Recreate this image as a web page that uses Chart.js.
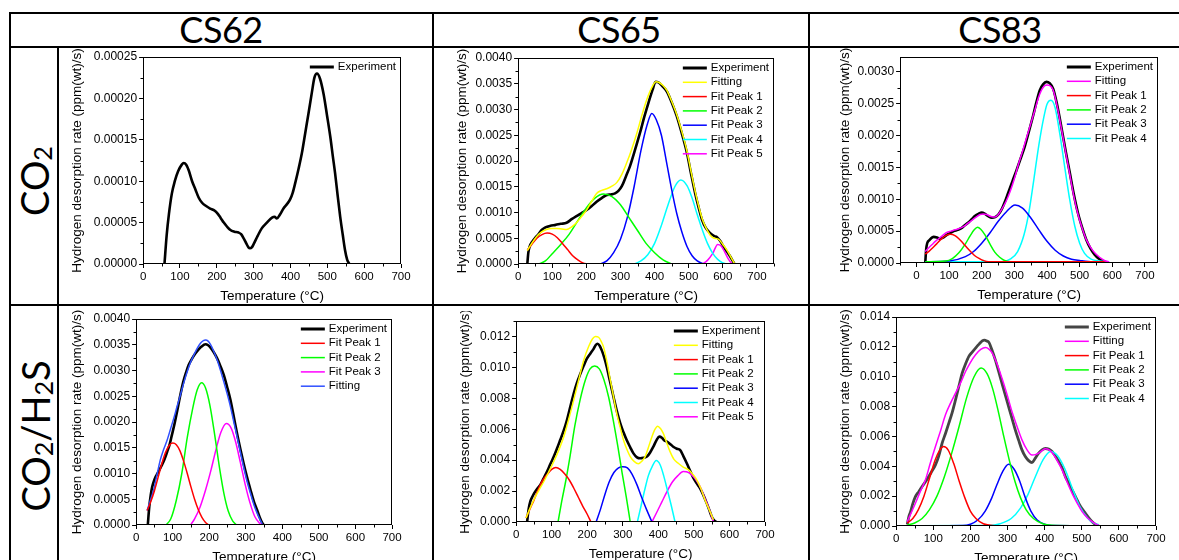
<!DOCTYPE html>
<html>
<head>
<meta charset="utf-8">
<script src="https://cdn.jsdelivr.net/npm/chart.js@4.4.1/dist/chart.umd.min.js"></script>
<style>
  body { margin:0; width:1179px; height:560px; overflow:hidden; background:#fff; position:relative; font-family:Lato, "Open Sans", sans-serif; }
  .ln { position:absolute; background:#000; }
  .hd { position:absolute; top:7px; font-size:36px; line-height:44px; transform:translateX(-50%); white-space:nowrap; letter-spacing:-0.5px; color:#000; }
  .rl { position:absolute; font-size:38px; line-height:44px; white-space:nowrap; transform:translate(-50%,-50%) rotate(-90deg); color:#000; }
  .rl sub { font-size:0.66em; vertical-align:-0.1em; line-height:0; }
  canvas { position:absolute; }
</style>
</head>
<body>
<div class="ln" style="left:9px;top:12px;width:1170px;height:2px"></div>
<div class="ln" style="left:9px;top:46px;width:1170px;height:2px"></div>
<div class="ln" style="left:9px;top:304px;width:1170px;height:2px"></div>
<div class="ln" style="left:9px;top:12px;width:2px;height:548px"></div>
<div class="ln" style="left:57px;top:46px;width:2px;height:514px"></div>
<div class="ln" style="left:432px;top:12px;width:2px;height:548px"></div>
<div class="ln" style="left:808px;top:12px;width:2px;height:548px"></div>

<div class="hd" style="left:221px">CS62</div>
<div class="hd" style="left:619px">CS65</div>
<div class="hd" style="left:1000px">CS83</div>
<div class="rl" style="left:34px;top:181px">CO<sub>2</sub></div>
<div class="rl" style="left:35px;top:436px">CO<sub>2</sub>/H<sub>2</sub>S</div>

<script>
// tick labels
const temperatureTicks = [0, 100, 200, 300, 400, 500, 600, 700];
const cs62Co2YTicks = [0, 0.00005, 0.0001, 0.00015, 0.0002, 0.00025];
const cs65Co2YTicks = [0, 0.0005, 0.001, 0.0015, 0.002, 0.0025, 0.003, 0.0035, 0.004];
const cs83Co2YTicks = [0, 0.0005, 0.001, 0.0015, 0.002, 0.0025, 0.003];
const cs62H2sYTicks = [0, 0.0005, 0.001, 0.0015, 0.002, 0.0025, 0.003, 0.0035, 0.004];
const cs65H2sYTicks = [0, 0.002, 0.004, 0.006, 0.008, 0.01, 0.012];
const cs83H2sYTicks = [0, 0.002, 0.004, 0.006, 0.008, 0.01, 0.012, 0.014];

// CS62 / CO2  [temperature, rate]
const cs62Co2Exp = [[58,0],[64,0.000035],[70,0.00006],[78,0.000085],[86,0.0001],[95,0.000112],[105,0.00012],[110,0.000122],[117,0.00012],[124,0.000113],[133,0.0001],[142,0.00009],[151,0.00008],[160,0.000074],[171,0.00007],[182,0.000067],[192,0.000065],[200,0.000062],[210,0.000056],[219,0.00005],[228,0.000045],[237,0.000041],[248,0.000039],[259,0.000038],[266,0.000036],[273,0.000031],[280,0.000025],[286,0.00002],[290,0.000019],[295,0.00002],[300,0.000024],[311,0.000034],[322,0.000043],[336,0.00005],[350,0.000056],[357,0.000057],[363,0.000055],[372,0.00006],[381,0.000067],[390,0.000072],[399,0.000078],[406,0.000086],[413,0.000098],[422,0.000115],[431,0.000134],[440,0.000158],[449,0.000182],[458,0.000207],[465,0.000225],[472,0.00023],[480,0.000224],[490,0.000205],[499,0.00018],[508,0.000154],[515,0.00013],[521,0.00011],[528,0.000083],[535,0.000057],[542,0.000035],[548,0.000017],[554,0.000005],[560,0]];

// CS65 / CO2
const cs65Co2Exp = [[27,0],[30,0.00022],[34,0.00034],[42,0.00044],[49,0.0005],[60,0.00058],[69,0.00066],[80,0.00071],[93,0.00074],[110,0.00076],[125,0.00078],[142,0.0008],[157,0.00087],[171,0.00093],[186,0.00099],[201,0.00105],[215,0.00112],[230,0.00121],[245,0.00128],[260,0.00134],[272,0.00135],[284,0.00137],[294,0.00142],[304,0.00151],[316,0.0017],[328,0.0019],[342,0.0022],[357,0.00254],[370,0.00286],[382,0.00313],[394,0.00338],[403,0.00354],[410,0.00353],[422,0.00346],[436,0.00335],[450,0.00314],[465,0.00287],[480,0.00253],[495,0.00215],[507,0.00175],[519,0.00137],[529,0.0011],[539,0.00086],[550,0.0007],[563,0.0006],[575,0.00054],[583,0.00052],[592,0.00045],[602,0.00034],[612,0.00024],[622,0.00014],[628,0.00007],[634,0]];
const cs65Co2Fit = [[27,0.00026],[40,0.0004],[54,0.00053],[68,0.00062],[83,0.00067],[98,0.00069],[113,0.00069],[128,0.00068],[142,0.00067],[157,0.00072],[171,0.0008],[186,0.00092],[201,0.00105],[215,0.00121],[230,0.00137],[245,0.00143],[260,0.00146],[275,0.00151],[289,0.00158],[304,0.00174],[318,0.00196],[333,0.00223],[348,0.00254],[362,0.00287],[377,0.00319],[392,0.00343],[404,0.00354],[412,0.00353],[424,0.00347],[436,0.00337],[450,0.00316],[465,0.0029],[480,0.00257],[495,0.00219],[507,0.00179],[519,0.00141],[529,0.00113],[539,0.00089],[550,0.00071],[563,0.00056],[575,0.0005],[588,0.00048],[600,0.00038],[612,0.00027],[624,0.00013],[634,0.00001]];
const cs65Co2Peak1 = [[27,0.00027],[40,0.00038],[55,0.0005],[70,0.00057],[85,0.0006],[100,0.00058],[115,0.00051],[130,0.0004],[145,0.00028],[160,0.00016],[175,0.00008],[190,0.00002],[205,0]];
const cs65Co2Peak2 = [[60,0],[80,0.00006],[100,0.0002],[125,0.00038],[150,0.00058],[175,0.00084],[200,0.00109],[225,0.00128],[250,0.00136],[275,0.00131],[300,0.00115],[325,0.0009],[350,0.00065],[375,0.0004],[400,0.00022],[425,0.00008],[450,0]];
const cs65Co2Peak3 = [[240,0],[260,0.00006],[280,0.00022],[300,0.00048],[320,0.0009],[340,0.0015],[360,0.0022],[378,0.0027],[392,0.00292],[405,0.0028],[420,0.0025],[435,0.00198],[450,0.00145],[465,0.00098],[480,0.00062],[495,0.00034],[510,0.00016],[525,0.00006],[545,0]];
const cs65Co2Peak4 = [[340,0],[360,0.00006],[380,0.00018],[400,0.0004],[420,0.00075],[440,0.00116],[460,0.00151],[477,0.00163],[495,0.00152],[510,0.00128],[525,0.00096],[540,0.00066],[555,0.0004],[570,0.00021],[585,0.00009],[600,0.00002],[612,0]];
const cs65Co2Peak5 = [[540,0],[555,0.00007],[570,0.0002],[585,0.00038],[595,0.00035],[605,0.00024],[615,0.00011],[625,0.00002],[630,0]];

// CS83 / CO2
const cs83Co2Exp = [[27,0],[30,0.00022],[33,0.00031],[40,0.00036],[53,0.00041],[63,0.0004],[73,0.00038],[83,0.0004],[93,0.00044],[104,0.00047],[114,0.0005],[127,0.00052],[139,0.00055],[150,0.0006],[160,0.00064],[170,0.00069],[180,0.00074],[190,0.00077],[200,0.00079],[210,0.00077],[221,0.00073],[231,0.00071],[241,0.00072],[251,0.00076],[261,0.00084],[271,0.00096],[281,0.0011],[294,0.00128],[307,0.00146],[320,0.00165],[332,0.00183],[345,0.00207],[358,0.00232],[368,0.00253],[378,0.00271],[388,0.0028],[398,0.00284],[408,0.00282],[419,0.00273],[431,0.00248],[444,0.00213],[457,0.00176],[470,0.00141],[482,0.00108],[495,0.00078],[508,0.00055],[520,0.00037],[533,0.00023],[546,0.00013],[558,0.00007],[571,0.00003],[581,0.00001]];
const cs83Co2Fit = [[27,0.00018],[38,0.00024],[48,0.00029],[58,0.00034],[68,0.00038],[80,0.00043],[93,0.00048],[106,0.0005],[119,0.00052],[131,0.00054],[144,0.00057],[157,0.00062],[170,0.00067],[183,0.00072],[195,0.00076],[205,0.00077],[215,0.00076],[228,0.00073],[241,0.00072],[251,0.00076],[261,0.00084],[274,0.00096],[287,0.00112],[300,0.00132],[312,0.00154],[325,0.00175],[337,0.00196],[350,0.00218],[363,0.0024],[373,0.00258],[383,0.00271],[393,0.00278],[400,0.00279],[409,0.00278],[419,0.00271],[431,0.00246],[444,0.00211],[457,0.00174],[470,0.00138],[482,0.00105],[495,0.00076],[508,0.00054],[520,0.00037],[533,0.00025],[546,0.00016],[561,0.00009],[576,0.00004],[590,0.00002]];
const cs83Co2Peak1 = [[27,0.00014],[40,0.00019],[50,0.00024],[62,0.0003],[75,0.00037],[90,0.00043],[104,0.00045],[118,0.00043],[130,0.00038],[143,0.00031],[155,0.00024],[168,0.00017],[180,0.00011],[193,0.00007],[205,0.00004],[220,0.00002],[250,0.00002],[590,0.00002]];
const cs83Co2Peak2 = [[27,0.00002],[90,0.00003],[110,0.00007],[130,0.00016],[150,0.0003],[165,0.00043],[177,0.00052],[187,0.00056],[197,0.00053],[210,0.00044],[225,0.0003],[240,0.00017],[255,0.00009],[270,0.00004],[290,0.00002],[590,0.00002]];
const cs83Co2Peak3 = [[27,0.00002],[100,0.00003],[150,0.0001],[175,0.00018],[200,0.00031],[225,0.00047],[250,0.00065],[275,0.0008],[302,0.00091],[325,0.00086],[350,0.00071],[375,0.00052],[400,0.00034],[425,0.0002],[450,0.00011],[475,0.00006],[500,0.00004],[540,0.00002],[590,0.00002]];
const cs83Co2Peak4 = [[27,0.00002],[260,0.00002],[290,0.00007],[310,0.00018],[330,0.00045],[345,0.00081],[360,0.00132],[375,0.00185],[390,0.00228],[400,0.00249],[412,0.00255],[425,0.00243],[440,0.002],[455,0.00148],[470,0.00098],[485,0.00058],[500,0.00031],[515,0.00015],[535,0.00006],[560,0.00003],[590,0.00002]];

// CS62 / CO2/H2S
const cs62H2sExp = [[32,0],[36,0.00035],[40,0.00058],[44,0.00074],[50,0.00088],[56,0.00097],[63,0.00106],[71,0.00117],[78,0.00128],[85,0.00142],[92,0.00157],[98,0.00175],[105,0.00196],[112,0.0022],[120,0.00249],[129,0.00278],[137,0.00297],[144,0.00311],[153,0.00323],[162,0.00333],[170,0.0034],[178,0.00346],[190,0.00351],[197,0.00349],[203,0.00345],[212,0.00336],[222,0.00323],[231,0.00308],[240,0.00291],[249,0.00268],[258,0.00243],[267,0.00211],[276,0.00178],[285,0.00148],[294,0.0012],[303,0.00094],[313,0.00068],[322,0.00046],[331,0.00029],[338,0.00015],[345,0.00004],[349,0]];
const cs62H2sPeak1 = [[30,0.00028],[40,0.00045],[50,0.00066],[60,0.00092],[70,0.00118],[80,0.0014],[90,0.00154],[100,0.00159],[110,0.00156],[120,0.00144],[130,0.00124],[140,0.001],[150,0.00074],[160,0.0005],[170,0.0003],[180,0.00015],[190,0.00005],[198,0]];
const cs62H2sPeak2 = [[82,0],[95,0.00012],[110,0.00048],[125,0.001],[140,0.0017],[155,0.00227],[167,0.00262],[179,0.00276],[190,0.00266],[202,0.00232],[215,0.00175],[228,0.00112],[240,0.00062],[252,0.00027],[264,0.00008],[275,0]];
const cs62H2sPeak3 = [[149,0],[160,0.00012],[175,0.00035],[190,0.00068],[205,0.00107],[218,0.00145],[232,0.0018],[247,0.00197],[260,0.00188],[272,0.00162],[285,0.00122],[298,0.0008],[312,0.00042],[325,0.00016],[337,0.00004],[345,0]];
const cs62H2sFit = [[30,0.00028],[39,0.00048],[48,0.00068],[57,0.00097],[66,0.00126],[75,0.00146],[85,0.00165],[94,0.00186],[103,0.00207],[112,0.0023],[121,0.00252],[130,0.00275],[140,0.00298],[149,0.00316],[158,0.0033],[167,0.00343],[176,0.00353],[184,0.00358],[190,0.00359],[197,0.00357],[203,0.00351],[212,0.00338],[222,0.0032],[231,0.003],[240,0.00278],[249,0.00255],[258,0.0023],[267,0.00201],[276,0.00172],[285,0.00142],[294,0.00113],[303,0.00086],[313,0.00061],[322,0.0004],[331,0.00023],[338,0.00012],[345,0.00002]];

// CS65 / CO2/H2S
const cs65H2sExp = [[31,0],[35,0.0008],[40,0.00133],[47,0.0017],[54,0.00198],[61,0.0022],[68,0.0024],[77,0.0028],[87,0.00326],[96,0.00373],[106,0.00423],[115,0.00475],[124,0.0053],[134,0.00592],[143,0.00659],[152,0.00742],[162,0.00831],[171,0.009],[181,0.0096],[190,0.0101],[199,0.01056],[209,0.0109],[218,0.0112],[224,0.01145],[229,0.01153],[235,0.0114],[241,0.0111],[248,0.01063],[255,0.01003],[264,0.0091],[274,0.00809],[283,0.0072],[293,0.00637],[302,0.0058],[311,0.0053],[321,0.00483],[330,0.00444],[340,0.00418],[349,0.00412],[358,0.00415],[368,0.00423],[377,0.0045],[386,0.00487],[395,0.0053],[403,0.00552],[410,0.00545],[417,0.00528],[424,0.0052],[433,0.00505],[442,0.00487],[452,0.00474],[461,0.00466],[470,0.00428],[480,0.0038],[490,0.00328],[499,0.00283],[508,0.0025],[517,0.00219],[527,0.00172],[536,0.00122],[543,0.0008],[550,0.00036],[557,0.0001],[564,0]];
const cs65H2sFit = [[28,0.00026],[39,0.00088],[50,0.00144],[64,0.00205],[78,0.00262],[92,0.00325],[106,0.00391],[120,0.00465],[134,0.00552],[148,0.00665],[162,0.00788],[176,0.00918],[190,0.01045],[204,0.01135],[215,0.01185],[223,0.012],[232,0.01195],[240,0.01165],[246,0.01131],[256,0.0103],[265,0.00917],[274,0.0081],[283,0.00702],[293,0.0061],[302,0.0053],[312,0.00467],[321,0.00423],[332,0.00392],[344,0.00376],[353,0.00392],[363,0.00423],[372,0.00482],[382,0.00552],[390,0.00598],[398,0.0062],[406,0.00605],[414,0.00573],[424,0.0051],[433,0.00455],[444,0.00405],[456,0.0038],[470,0.00355],[485,0.00337],[497,0.00308],[508,0.00273],[520,0.00215],[531,0.00144],[543,0.0008],[555,0.00015]];
const cs65H2sPeak1 = [[28,0.00026],[40,0.0009],[50,0.0014],[62,0.0021],[75,0.0027],[88,0.0031],[100,0.0034],[112,0.00352],[124,0.0034],[137,0.0031],[150,0.0027],[162,0.0022],[175,0.0016],[188,0.001],[200,0.0005],[210,0.00002]];
const cs65H2sPeak2 = [[118,0],[128,0.0013],[140,0.0027],[152,0.0043],[165,0.0062],[180,0.0079],[195,0.0092],[208,0.0099],[221,0.01009],[234,0.0099],[247,0.0092],[260,0.0081],[273,0.0066],[286,0.0049],[298,0.0032],[310,0.0016],[321,0]];
const cs65H2sPeak3 = [[225,0],[237,0.0008],[250,0.0018],[262,0.0026],[275,0.0032],[288,0.0035],[300,0.00358],[313,0.0035],[326,0.0031],[340,0.0024],[353,0.0016],[367,0.0008],[382,0]];
const cs65H2sPeak4 = [[341,0],[352,0.0011],[362,0.0021],[372,0.003],[383,0.0036],[394,0.00397],[405,0.0037],[415,0.003],[425,0.0021],[436,0.0011],[447,0]];
const cs65H2sPeak5 = [[382,0],[395,0.0006],[410,0.0013],[425,0.002],[440,0.0026],[455,0.003],[470,0.00326],[485,0.0032],[500,0.0029],[515,0.0024],[528,0.0017],[542,0.0009],[555,0]];

// CS83 / CO2/H2S
const cs83H2sExp = [[30,0.0001],[34,0.0006],[39,0.00096],[45,0.0015],[52,0.00197],[61,0.0023],[70,0.00264],[79,0.00297],[88,0.00331],[97,0.0037],[106,0.00409],[115,0.0047],[124,0.00555],[133,0.0062],[142,0.00689],[151,0.0076],[160,0.00845],[169,0.00935],[178,0.01024],[187,0.01085],[196,0.01136],[205,0.01165],[214,0.01192],[224,0.0122],[232,0.0124],[238,0.01245],[244,0.0124],[250,0.0123],[258,0.0118],[267,0.01114],[276,0.01037],[285,0.00957],[294,0.00878],[303,0.008],[312,0.00722],[321,0.00644],[330,0.00575],[339,0.0051],[348,0.00465],[357,0.00438],[366,0.00425],[375,0.00455],[384,0.00488],[393,0.0051],[402,0.00519],[411,0.00515],[420,0.00499],[429,0.00468],[438,0.00432],[447,0.0039],[456,0.00331],[465,0.00287],[474,0.00242],[483,0.00197],[492,0.00152],[501,0.00115],[510,0.00085],[519,0.00055],[528,0.00029],[537,0.0001],[546,0]];
const cs83H2sFit = [[30,0.00029],[41,0.0009],[52,0.00152],[65,0.0023],[79,0.00309],[92,0.0042],[106,0.00532],[120,0.0064],[133,0.00745],[147,0.00825],[160,0.0089],[174,0.0096],[187,0.01035],[200,0.01095],[214,0.01147],[228,0.01183],[241,0.01196],[250,0.01185],[259,0.01158],[272,0.01085],[285,0.00991],[299,0.00879],[312,0.00767],[326,0.00665],[339,0.00577],[352,0.00513],[366,0.00476],[375,0.00478],[384,0.00488],[393,0.00505],[402,0.00517],[411,0.00512],[420,0.00492],[433,0.00442],[447,0.00376],[460,0.00298],[474,0.00219],[488,0.00152],[501,0.00096],[515,0.00055],[528,0.00029],[537,0.00014],[546,0.00004]];
const cs83H2sPeak1 = [[30,0.0002],[45,0.0005],[60,0.0011],[75,0.002],[90,0.0032],[105,0.0044],[118,0.0051],[128,0.00532],[140,0.0051],[155,0.0042],[170,0.003],[185,0.0019],[200,0.001],[215,0.0005],[235,0.00015],[260,0.00003],[300,0.00001],[546,0.00001]];
const cs83H2sPeak2 = [[30,0.00006],[50,0.0002],[70,0.0005],[90,0.0011],[110,0.002],[130,0.0033],[150,0.0049],[170,0.0067],[190,0.0086],[210,0.01],[229,0.01058],[245,0.0102],[260,0.0092],[275,0.0077],[290,0.006],[305,0.0044],[320,0.003],[335,0.0019],[350,0.0011],[370,0.0005],[395,0.00015],[430,0.00003],[546,0.00001]];
const cs83H2sPeak3 = [[30,0.00001],[180,0.00003],[200,0.00012],[220,0.0004],[240,0.001],[258,0.0019],[272,0.0028],[288,0.0037],[303,0.00414],[318,0.0038],[333,0.003],[348,0.0019],[363,0.001],[380,0.0004],[400,0.00012],[430,0.00003],[546,0.00001]];
const cs83H2sPeak4 = [[30,0.00001],[250,0.00003],[280,0.00015],[310,0.0005],[335,0.0012],[355,0.0021],[375,0.0033],[395,0.0044],[416,0.00499],[435,0.0047],[455,0.0038],[475,0.0025],[495,0.0013],[515,0.00055],[530,0.00022],[546,0.00008]];

const TICK_FONT = '"Liberation Sans", Arial, sans-serif';
const RED = '#ff0000', GREEN = '#00ff00', BLUE = '#0000ff', CYAN = '#00ffff', MAGENTA = '#ff00ff', YELLOW = '#ffff00';

// frame box, minor ticks and the in-plot legend (Origin look)
const originFrame = {
  id: 'originFrame',
  afterDatasetsDraw(chart, args, opts) {
    const { ctx, chartArea: a } = chart;
    const x = chart.scales.x, y = chart.scales.y;
    ctx.save();
    ctx.strokeStyle = '#000';
    ctx.lineWidth = 1;
    const l = Math.round(a.left) + 0.5, t = Math.round(a.top) + 0.5;
    const r = Math.round(a.right) - 0.5, b = Math.round(a.bottom) - 0.5;
    ctx.strokeRect(l, t, r - l, b - t);
    ctx.beginPath();
    minorValues(opts.xTicks, x.min, x.max).forEach(v => {
      const px = Math.round(x.getPixelForValue(v)) + 0.5;
      ctx.moveTo(px, b); ctx.lineTo(px, b + 3);
    });
    minorValues(opts.yTicks, y.min, y.max).forEach(v => {
      const py = Math.round(y.getPixelForValue(v)) + 0.5;
      ctx.moveTo(l, py); ctx.lineTo(l - 3, py);
    });
    ctx.stroke();

    // legend
    ctx.font = '11.5px ' + TICK_FONT;
    ctx.textBaseline = 'middle';
    ctx.fillStyle = '#000';
    const items = chart.data.datasets;
    const maxW = Math.max(...items.map(d => ctx.measureText(d.label).width));
    const tx = a.right - 5 - maxW;
    items.forEach((d, i) => {
      const yy = a.top + 10 + i * 14.3;
      ctx.beginPath();
      ctx.strokeStyle = d.borderColor;
      ctx.lineWidth = d.borderWidth > 2 ? 3 : 1.5;
      ctx.moveTo(tx - 28, yy); ctx.lineTo(tx - 4, yy);
      ctx.stroke();
      ctx.fillText(d.label, tx, yy);
    });
    ctx.restore();
  }
};

function minorValues(ticks, min, max) {
  const out = [];
  const step = ticks[1] - ticks[0];
  ticks.forEach(v => { const m = v + step / 2; if (m <= max + step * 1e-6) out.push(m); });
  if (ticks[0] - step / 2 >= min - step * 1e-6) out.push(ticks[0] - step / 2);
  return out;
}

const panels = [
  { id: 'p1', plot: [143, 57, 401, 264], titleGap: 66, xMin: 0, xMax: 700, yMax: 0.00025, yTicks: cs62Co2YTicks, yDigits: 5,
    series: [['Experiment', cs62Co2Exp, '#000', 2.6]] },
  { id: 'p2', plot: [518, 58, 774, 264], titleGap: 56, xMin: 0, xMax: 750, yMax: 0.004, yTicks: cs65Co2YTicks, yDigits: 4,
    series: [['Experiment', cs65Co2Exp, '#000', 2.6], ['Fitting', cs65Co2Fit, YELLOW, 1.5], ['Fit Peak 1', cs65Co2Peak1, RED, 1.5],
             ['Fit Peak 2', cs65Co2Peak2, GREEN, 1.5], ['Fit Peak 3', cs65Co2Peak3, BLUE, 1.5], ['Fit Peak 4', cs65Co2Peak4, CYAN, 1.5],
             ['Fit Peak 5', cs65Co2Peak5, MAGENTA, 1.5]] },
  { id: 'p3', plot: [900, 57, 1158, 263], titleGap: 55, xMin: -50, xMax: 740, yMax: 0.00323, yTicks: cs83Co2YTicks, yDigits: 4,
    series: [['Experiment', cs83Co2Exp, '#000', 2.6], ['Fitting', cs83Co2Fit, MAGENTA, 1.5], ['Fit Peak 1', cs83Co2Peak1, RED, 1.5],
             ['Fit Peak 2', cs83Co2Peak2, GREEN, 1.5], ['Fit Peak 3', cs83Co2Peak3, BLUE, 1.5], ['Fit Peak 4', cs83Co2Peak4, CYAN, 1.5]] },
  { id: 'p4', plot: [136, 319, 392, 525], titleGap: 59, xMin: 0, xMax: 700, yMax: 0.004, yTicks: cs62H2sYTicks, yDigits: 4,
    series: [['Experiment', cs62H2sExp, '#000', 2.6], ['Fit Peak 1', cs62H2sPeak1, RED, 1.5], ['Fit Peak 2', cs62H2sPeak2, GREEN, 1.5],
             ['Fit Peak 3', cs62H2sPeak3, MAGENTA, 1.5], ['Fitting', cs62H2sFit, '#3050ff', 1.5]] },
  { id: 'p5', plot: [516, 321, 765, 522], titleGap: 51, xMin: 0, xMax: 700, yMax: 0.013, yTicks: cs65H2sYTicks, yDigits: 3,
    series: [['Experiment', cs65H2sExp, '#000', 2.6], ['Fitting', cs65H2sFit, YELLOW, 1.5], ['Fit Peak 1', cs65H2sPeak1, RED, 1.5],
             ['Fit Peak 2', cs65H2sPeak2, GREEN, 1.5], ['Fit Peak 3', cs65H2sPeak3, BLUE, 1.5], ['Fit Peak 4', cs65H2sPeak4, CYAN, 1.5],
             ['Fit Peak 5', cs65H2sPeak5, MAGENTA, 1.5]] },
  { id: 'p6', plot: [896, 317, 1156, 526], titleGap: 51, xMin: 0, xMax: 700, yMax: 0.014, yTicks: cs83H2sYTicks, yDigits: 3,
    series: [['Experiment', cs83H2sExp, '#454545', 2.8], ['Fitting', cs83H2sFit, MAGENTA, 1.5], ['Fit Peak 1', cs83H2sPeak1, RED, 1.5],
             ['Fit Peak 2', cs83H2sPeak2, GREEN, 1.5], ['Fit Peak 3', cs83H2sPeak3, BLUE, 1.5], ['Fit Peak 4', cs83H2sPeak4, CYAN, 1.5]] }
];

const PAD_TOP = 10, PAD_RIGHT = 14, X_AXIS_H = 40;

panels.forEach(p => {
  const [L, T, R, B] = p.plot;
  const yW = p.titleGap + 8.1;
  const cv = document.createElement('canvas');
  cv.id = p.id;
  cv.width = Math.round(yW + (R - L) + PAD_RIGHT);
  cv.height = PAD_TOP + (B - T) + X_AXIS_H;
  cv.style.left = (L - yW) + 'px';
  cv.style.top = (T - PAD_TOP) + 'px';
  document.body.appendChild(cv);

  new Chart(cv, {
    type: 'line',
    data: {
      datasets: p.series.map(([label, pts, color, w]) => ({
        label: label,
        data: pts.map(([t, v]) => ({ x: t, y: v })),
        borderColor: color,
        borderWidth: w,
        pointRadius: 0,
        fill: false,
        cubicInterpolationMode: 'monotone',
        order: label === 'Experiment' ? 10 : 0
      }))
    },
    options: {
      responsive: false,
      animation: false,
      layout: { padding: { left: 0, top: PAD_TOP, right: PAD_RIGHT, bottom: 0 } },
      plugins: {
        legend: { display: false },
        tooltip: { enabled: false },
        originFrame: { xTicks: temperatureTicks, yTicks: p.yTicks }
      },
      scales: {
        x: {
          type: 'linear', min: p.xMin, max: p.xMax,
          afterBuildTicks: s => { s.ticks = temperatureTicks.map(v => ({ value: v })); },
          afterFit: s => { s.height = X_AXIS_H; s.paddingLeft = 0; s.paddingRight = 0; },
          grid: { drawOnChartArea: false, tickLength: 4, color: '#000' },
          border: { display: false },
          ticks: { color: '#000', font: { family: TICK_FONT, size: 11.5 }, padding: 2, maxRotation: 0, autoSkip: false,
                   callback: v => String(v) },
          title: { display: true, text: 'Temperature (°C)', color: '#000', padding: 0, font: { family: TICK_FONT, size: 13.5 } }
        },
        y: {
          type: 'linear', min: 0, max: p.yMax,
          afterBuildTicks: s => { s.ticks = p.yTicks.map(v => ({ value: v })); },
          afterFit: s => { s.width = yW; s.paddingTop = 0; s.paddingBottom = 0; },
          grid: { drawOnChartArea: false, tickLength: 4, color: '#000' },
          border: { display: false },
          ticks: { color: '#000', font: { family: TICK_FONT, size: 12 }, padding: 2, autoSkip: false,
                   callback: v => Number(v).toFixed(p.yDigits) },
          title: { display: true, text: 'Hydrogen desorption rate (ppm(wt)/s)', color: '#000', padding: 0,
                   font: { family: TICK_FONT, size: 13.5 } }
        }
      }
    },
    plugins: [originFrame]
  });
});
</script>
</body>
</html>
